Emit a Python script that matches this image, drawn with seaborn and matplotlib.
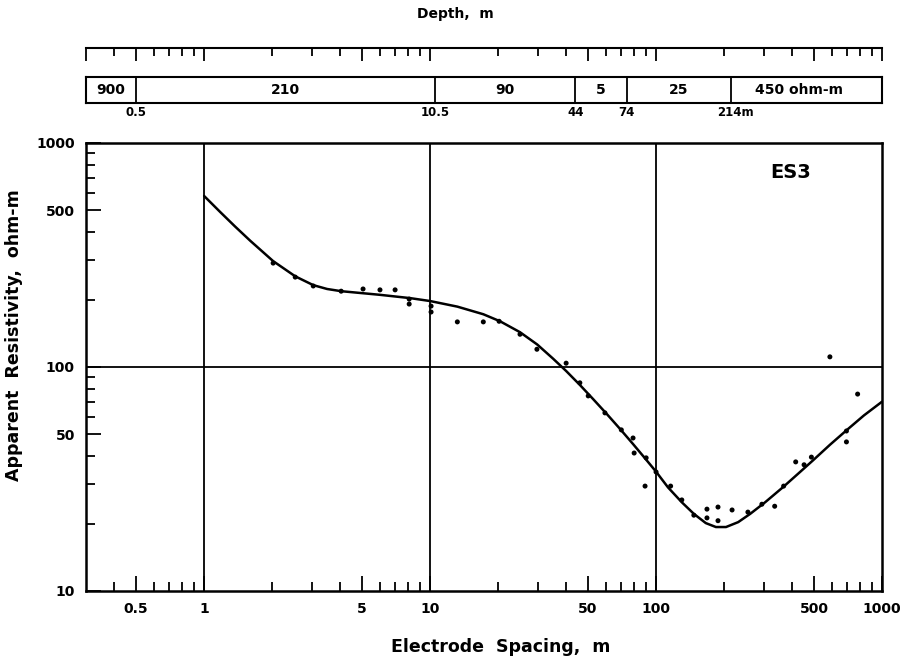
import matplotlib
matplotlib.use("Agg")
import matplotlib.pyplot as plt
import pandas as pd
import seaborn as sns
from matplotlib.ticker import FixedLocator, FixedFormatter, NullFormatter

# ==========================================
# data read off the sounding curve ES3
# ==========================================
# fitted model curve
curve_spacing = [1.0, 1.18, 1.37, 1.6, 2.02, 2.53, 3.04, 3.5, 4.04, 6.0, 8.16, 10.0,
                 13.2, 17.2, 20.4, 25.0, 29.8, 35.0, 40.0, 46.1, 52.6, 60.7, 69.3,
                 79.1, 89.4, 100.0, 113, 130, 147, 166, 184, 204, 231, 261, 304,
                 365, 434, 495, 589, 700, 832, 1000]
curve_rho = [580, 491, 424, 366, 297, 254, 232, 223, 218, 210, 203, 197,
             186, 172, 160, 143, 126, 109, 96, 83, 72, 61.5, 52.9,
             45.3, 39.1, 34.1, 29.0, 24.9, 22.1, 20.1, 19.3, 19.3, 20.3, 22.1, 24.9,
             29.1, 34.0, 38.3, 45.0, 52.4, 60.8, 70]

# field observations
obs_spacing = [2.02, 2.53, 3.04, 4.04, 5.05, 6.0, 7.0, 8.08, 8.08, 10.1, 10.1, 13.2,
               17.2, 20.2, 25.0, 29.7, 40.0, 46.0, 50.1, 59.4, 70.2, 79.1, 80.0, 90.4,
               100.0, 89.4, 116, 130, 147, 168, 168, 188, 188, 217, 255, 294, 335, 367,
               415, 452, 487, 588, 696, 696, 780]
obs_rho = [291, 252, 230, 218, 223, 221, 221, 201, 191, 187, 176, 159,
           159, 160, 140, 120, 104, 85, 74.3, 62.4, 52.4, 48.2, 41.3, 39.3,
           34.0, 29.4, 29.4, 25.5, 21.8, 23.2, 21.2, 23.7, 20.6, 23.0, 22.5, 24.4, 23.9, 29.4,
           37.7, 36.6, 39.6, 111, 51.8, 46.3, 75.7]

# layered earth model
layer_bounds = [0.3, 0.5, 10.5, 44, 74, 214, 1000]
layer_rho_labels = ["900", "210", "90", "5", "25", "450 ohm-m"]
depth_labels = ["0.5", "10.5", "44", "74", "214m"]

x_major = [0.5, 1, 5, 10, 50, 100, 500, 1000]
x_major_labels = ["0.5", "1", "5", "10", "50", "100", "500", "1000"]
x_minor = [0.4, 0.6, 0.7, 0.8, 0.9, 2, 3, 4, 6, 7, 8, 9, 20, 30, 40, 60, 70, 80, 90,
           200, 300, 400, 600, 700, 800, 900]
y_major = [10, 50, 100, 500, 1000]
y_major_labels = ["10", "50", "100", "500", "1000"]
y_minor = [20, 30, 40, 60, 70, 80, 90, 200, 300, 400, 600, 700, 800, 900]

sns.set_style("white")
plt.rcParams['font.family'] = ['DejaVu Sans']
plt.rcParams['font.weight'] = 'bold'
plt.rcParams['text.color'] = 'black'
plt.rcParams['xtick.color'] = 'black'
plt.rcParams['ytick.color'] = 'black'
plt.rcParams['axes.labelcolor'] = 'black'

W, H = 905, 665
fig = plt.figure(figsize=(W / 100, H / 100), dpi=100)

def box(l, t, r, b):
    return [l / W, 1 - b / H, (r - l) / W, (b - t) / H]

XMIN, XMAX = 0.3, 1000

# ---- main sounding plot ----
ax = fig.add_axes(box(86, 143, 882, 591))
curve_df = pd.DataFrame({'spacing': curve_spacing, 'rho': curve_rho})
obs_df = pd.DataFrame({'spacing': obs_spacing, 'rho': obs_rho})
sns.lineplot(data=curve_df, x='spacing', y='rho', ax=ax, color='black', lw=1.8,
             sort=False, estimator=None)
sns.scatterplot(data=obs_df, x='spacing', y='rho', ax=ax, color='black', s=13,
                edgecolor='none', zorder=4)
ax.set_xscale('log')
ax.set_yscale('log')
ax.set_xlim(XMIN, XMAX)
ax.set_ylim(10, 1000)
for xv in [1, 10, 100]:
    ax.axvline(xv, color='black', lw=1.3, zorder=1)
ax.axhline(100, color='black', lw=1.3, zorder=1)

ax.xaxis.set_major_locator(FixedLocator(x_major))
ax.xaxis.set_major_formatter(FixedFormatter(x_major_labels))
ax.xaxis.set_minor_locator(FixedLocator(x_minor))
ax.xaxis.set_minor_formatter(NullFormatter())
ax.yaxis.set_major_locator(FixedLocator(y_major))
ax.yaxis.set_major_formatter(FixedFormatter(y_major_labels))
ax.yaxis.set_minor_locator(FixedLocator(y_minor))
ax.yaxis.set_minor_formatter(NullFormatter())
ax.tick_params(which='both', direction='in', color='black', width=1.3,
               bottom=True, left=True, top=False, right=False)
ax.tick_params(which='major', length=11, labelsize=10, pad=8)
ax.tick_params(which='minor', length=6.5)
for lab in ax.get_xticklabels() + ax.get_yticklabels():
    lab.set_fontweight('bold')
ax.set_xlabel('')
ax.set_ylabel('')
for sp in ax.spines.values():
    sp.set_color('black')
    sp.set_linewidth(1.8)
ax.text(0.885, 0.935, 'ES3', transform=ax.transAxes, fontsize=14,
        fontweight='bold', ha='center', va='center')

# ---- layer model strip ----
lay = fig.add_axes(box(86, 77, 882, 103))
lay.set_xscale('log')
lay.set_xlim(XMIN, XMAX)
lay.set_ylim(0, 1)
lay.set_xticks([])
lay.set_yticks([])
lay.minorticks_off()
for sp in lay.spines.values():
    sp.set_color('black')
    sp.set_linewidth(1.5)
for b in layer_bounds[1:-1]:
    lay.axvline(b, color='black', lw=1.3)
for i, lbl in enumerate(layer_rho_labels):
    lo, hi = layer_bounds[i], layer_bounds[i + 1]
    xc = (lo * hi) ** 0.5
    if i == len(layer_rho_labels) - 1:
        xc = xc * 0.93
    lay.text(xc, 0.5, lbl, ha='center', va='center', fontsize=10, fontweight='bold')
for b, lbl in zip(layer_bounds[1:-1], depth_labels):
    xc = b * 1.05 if lbl.endswith('m') else b
    lay.text(xc, -0.35, lbl, ha='center', va='center', fontsize=8.5, fontweight='bold')

# ---- depth ruler ----
rul = fig.add_axes(box(86, 48, 882, 70))
rul.set_xscale('log')
rul.set_xlim(XMIN, XMAX)
rul.set_ylim(0, 1)
for s in ['left', 'right', 'bottom']:
    rul.spines[s].set_visible(False)
rul.spines['top'].set_linewidth(1.5)
rul.spines['top'].set_color('black')
rul.set_yticks([])
rul.xaxis.set_ticks_position('top')
rul.xaxis.set_major_locator(FixedLocator(x_major + [XMIN]))
rul.xaxis.set_minor_locator(FixedLocator(x_minor))
rul.xaxis.set_major_formatter(NullFormatter())
rul.xaxis.set_minor_formatter(NullFormatter())
rul.tick_params(which='both', direction='in', color='black', width=1.3, top=True, bottom=False)
rul.tick_params(which='major', length=9)
rul.tick_params(which='minor', length=6)
rul.patch.set_alpha(0)

# ---- titles ----
fig.text(455 / W, 1 - 14 / H, 'Depth,  m', ha='center', va='center', fontsize=10, fontweight='bold')
fig.text(501 / W, 1 - 647 / H, 'Electrode  Spacing,  m', ha='center', va='center',
         fontsize=12.5, fontweight='bold')
fig.text(14 / W, 1 - 335 / H, 'Apparent  Resistivity,  ohm-m', ha='center', va='center',
         rotation=90, fontsize=12.5, fontweight='bold')

fig.savefig('out.png', dpi=100)
